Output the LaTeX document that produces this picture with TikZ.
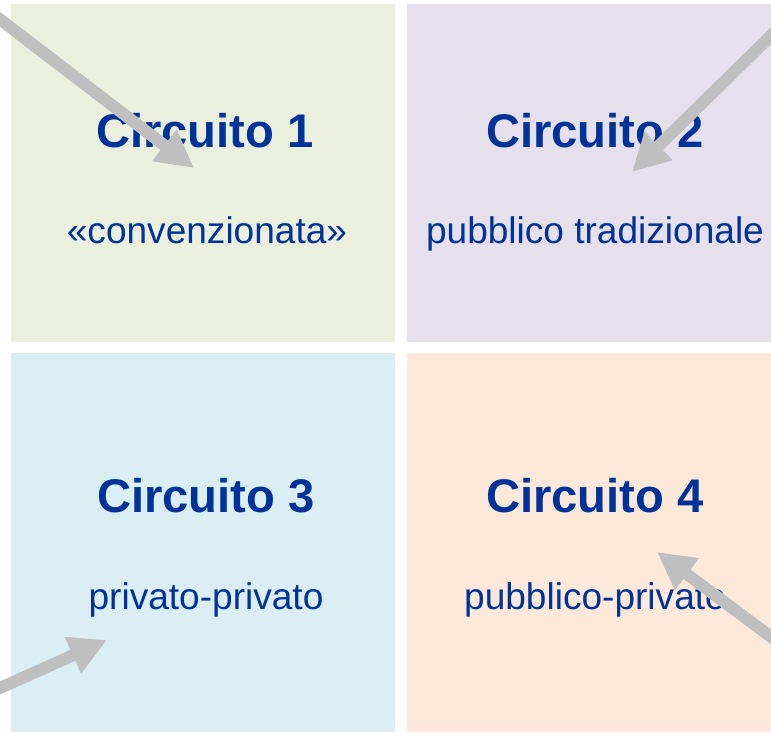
\documentclass[tikz,border=0pt]{standalone}
\usepackage{fontspec}
\setmainfont{Liberation Sans}
\usetikzlibrary{arrows.meta}
\definecolor{boxgreen}{HTML}{EBF0DE}
\definecolor{boxlilac}{HTML}{E5E0EC}
\definecolor{boxblue}{HTML}{DBEEF4}
\definecolor{boxpeach}{HTML}{FDE9D9}
\definecolor{textblue}{HTML}{003399}
\definecolor{pointgray}{HTML}{BFBFBF}
\begin{document}
\begin{tikzpicture}[x=0.75pt,y=-0.75pt,
  title/.style={anchor=base,text=textblue,font=\fontsize{35.4}{40}\selectfont\bfseries,inner sep=0pt},
  sub/.style={anchor=base,text=textblue,font=\fontsize{27.8}{32}\selectfont,inner sep=0pt},
  pointer/.style={pointgray,line width=9pt,-{Triangle[length=28pt,width=28pt]}}]
\useasboundingbox (0,0) rectangle (771,732);
\clip (0,0) rectangle (771,732);
\fill[boxgreen] (11,4) rectangle (395,342);
\fill[boxlilac] (407,4) rectangle (771,342);
\fill[boxblue] (11,353) rectangle (395,732);
\fill[boxpeach] (407,353) rectangle (771,732);
\node[title] (t1) at (205,147) {Circuito 1};
\node[sub] (s1) at (207,243) {«convenzionata»};
\node[title] (t2) at (595,147) {Circuito 2};
\node[sub] (s2) at (595,243) {pubblico tradizionale};
\node[title] (t3) at (206,512) {Circuito 3};
\node[sub] (s3) at (206,609) {privato-privato};
\node[title] (t4) at (595,512) {Circuito 4};
\node[sub] (s4) at (595,609) {pubblico-privato};
% pointers
\coordinate (p1) at (-20,4);   \coordinate (q1) at (194,168);
\coordinate (p2) at (790,17);  \coordinate (q2) at (632,172);
\coordinate (p3) at (-20,697); \coordinate (q3) at (107,640);
\coordinate (p4) at (790,651); \coordinate (q4) at (657,552);
\draw[pointer] (p1) -- (q1);
\draw[pointer] (p2) -- (q2);
\draw[pointer] (p3) -- (q3);
\draw[pointer] (p4) -- (q4);
\end{tikzpicture}
\end{document}
